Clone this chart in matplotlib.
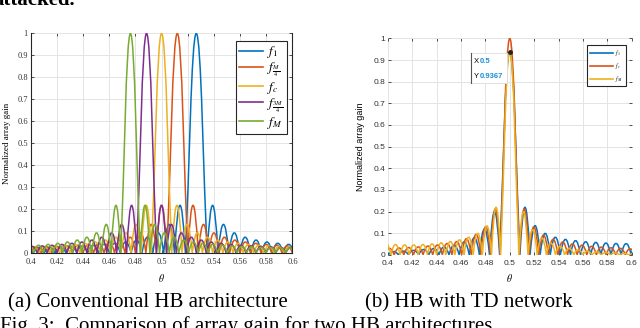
import matplotlib
matplotlib.use("Agg")
import matplotlib.pyplot as plt
from matplotlib.path import Path
from matplotlib.patches import PathPatch, Rectangle
from matplotlib.lines import Line2D

plt.rcParams["mathtext.fontset"] = "stix"

# ---- data ------------------------------------------------------------------
# (a) conventional HB: main-lobe direction and null spacing per frequency
conv_labels = [r"$f_1$", r"$f_{\frac{M}{4}}$", r"$f_c$", r"$f_{\frac{3M}{4}}$", r"$f_M$"]
conv_colors = ["#0072BD", "#D95319", "#EDB120", "#7E2F8E", "#77AC30"]
conv_peak = [0.5265, 0.5120, 0.5000, 0.4885, 0.4762]
conv_null_step = [0.0083, 0.0080, 0.0078, 0.0076, 0.0074]
# sidelobe heights, counted outward from the main lobe (same on both sides)
conv_sidelobes = [0.217, 0.130, 0.092, 0.072, 0.059, 0.050, 0.044, 0.039, 0.035,
                  0.032, 0.030, 0.028, 0.026, 0.025, 0.024, 0.023, 0.022]

# (b) HB with TD network: all beams at theta = 0.5
td_labels = [r"$f_1$", r"$f_c$", r"$f_M$"]
td_colors = ["#0072BD", "#D95319", "#EDB120"]
td_peak = [0.5, 0.5, 0.5]
td_top = [0.9367, 1.0, 0.9367]
td_null_step = [0.0083, 0.0079, 0.0075]
td_left = [
    [0.200, 0.120, 0.080, 0.060, 0.045, 0.036, 0.030, 0.025, 0.021, 0.018, 0.016, 0.015, 0.015],
    [0.212, 0.130, 0.095, 0.075, 0.062, 0.053, 0.046, 0.041, 0.037, 0.034, 0.032, 0.030, 0.030],
    [0.220, 0.135, 0.100, 0.082, 0.070, 0.062, 0.056, 0.051, 0.048, 0.046, 0.046, 0.048, 0.052, 0.056],
]
td_right = [
    [0.220, 0.135, 0.100, 0.082, 0.072, 0.066, 0.061, 0.058, 0.055, 0.053, 0.052, 0.051],
    [0.212, 0.130, 0.092, 0.072, 0.060, 0.051, 0.045, 0.040, 0.036, 0.033, 0.030, 0.028, 0.027],
    [0.200, 0.118, 0.078, 0.055, 0.040, 0.030, 0.023, 0.018, 0.014, 0.011, 0.009, 0.007, 0.006, 0.005],
]

theta_ticks = [0.4, 0.42, 0.44, 0.46, 0.48, 0.5, 0.52, 0.54, 0.56, 0.58, 0.6]
theta_ticklabels = ["0.4", "0.42", "0.44", "0.46", "0.48", "0.5", "0.52", "0.54", "0.56", "0.58", "0.6"]
gain_ticks = [0, 0.1, 0.2, 0.3, 0.4, 0.5, 0.6, 0.7, 0.8, 0.9, 1]
gain_ticklabels = ["0", "0.1", "0.2", "0.3", "0.4", "0.5", "0.6", "0.7", "0.8", "0.9", "1"]


def beam_path(peak, step, top, left, right):
    """Beam pattern as a path: arched lobes between nulls, sinc-like main lobe."""
    verts = [(peak - step * (len(left) + 1), 0.0)]
    codes = [Path.MOVETO]
    for k in range(len(left) - 1, -1, -1):
        x0 = peak - step * (k + 2)
        verts += [(x0 + step / 2, 2 * left[k]), (x0 + step, 0.0)]
        codes += [Path.CURVE3, Path.CURVE3]
    verts += [(peak - 2 * step / 3, top / 3), (peak - 0.45 * step, top), (peak, top),
              (peak + 0.45 * step, top), (peak + 2 * step / 3, top / 3), (peak + step, 0.0)]
    codes += [Path.CURVE4] * 6
    for k, h in enumerate(right):
        x0 = peak + step * (k + 1)
        verts += [(x0 + step / 2, 2 * h), (x0 + step, 0.0)]
        codes += [Path.CURVE3, Path.CURVE3]
    return Path(verts, codes)


def style_axes(ax, family):
    ax.set_xlim(0.4, 0.6)
    ax.set_ylim(0, 1)
    ax.set_xticks(theta_ticks)
    ax.set_xticklabels(theta_ticklabels, family=family, fontsize=6, color="#333333")
    ax.set_yticks(gain_ticks)
    ax.set_yticklabels(gain_ticklabels, family=family, fontsize=6, color="#333333")
    ax.grid(True, color="#e4e4e4", lw=0.7)
    ax.set_axisbelow(True)
    ax.tick_params(direction="in", length=2, width=0.6, pad=2, colors="#333333",
                   top=True, right=True)
    ax.tick_params(axis="x", pad=3.5)


fig = plt.figure(figsize=(6.4, 3.28), dpi=100)

# ---- (a) conventional HB ----
ax1 = fig.add_axes([0.048, 0.229, 0.409, 0.669])
style_axes(ax1, "Liberation Serif")
for sp in ["left", "bottom", "right"]:
    ax1.spines[sp].set_color("#262626")
    ax1.spines[sp].set_linewidth(0.8)
ax1.spines["top"].set_visible(False)
for p, s, c in zip(conv_peak, conv_null_step, conv_colors):
    ax1.add_patch(PathPatch(beam_path(p, s, 1.0, conv_sidelobes, conv_sidelobes),
                            fill=False, edgecolor=c, lw=1.1))
handles = [Line2D([], [], color=c, lw=1.2) for c in conv_colors]
leg = ax1.legend(handles, conv_labels, loc="upper right", bbox_to_anchor=(0.978, 0.966),
                 fontsize=9.5, handlelength=1.8, handletextpad=0.3, labelspacing=0.02,
                 borderpad=0.25, borderaxespad=0, fancybox=False, framealpha=1)
leg.get_frame().set_edgecolor("#262626")
leg.get_frame().set_linewidth(0.8)
ax1.set_ylabel("Normalized array gain", family="Liberation Serif", fontsize=6.5)
ax1.yaxis.set_label_coords(-0.075, 0.5)
ax1.set_xlabel(r"$\theta$", fontsize=7)
ax1.xaxis.set_label_coords(0.5, -0.085)

# ---- (b) HB with TD network ----
ax2 = fig.add_axes([0.606, 0.223, 0.381, 0.660])
style_axes(ax2, "Liberation Sans")
for sp in ax2.spines.values():
    sp.set_visible(False)
for p, s, t, l, r, c in zip(td_peak, td_null_step, td_top, td_left, td_right, td_colors):
    ax2.add_patch(PathPatch(beam_path(p, s, t, l, r), fill=False, edgecolor=c, lw=1.1))
handles = [Line2D([], [], color=c, lw=1.2) for c in td_colors]
leg = ax2.legend(handles, td_labels, loc="upper right", bbox_to_anchor=(0.975, 0.969),
                 fontsize=4, handlelength=4.2, handletextpad=0.4, labelspacing=0.55,
                 borderpad=0.45, borderaxespad=0, fancybox=False, framealpha=1)
leg.get_frame().set_edgecolor("#262626")
leg.get_frame().set_linewidth(0.8)
ax2.set_ylabel("Normalized array gain", family="Liberation Sans", fontsize=6.5)
ax2.yaxis.set_label_coords(-0.094, 0.5)
ax2.set_xlabel(r"$\theta$", fontsize=7)
ax2.xaxis.set_label_coords(0.5, -0.078)

# data tip
ax2.plot([0.5], [0.9367], "o", ms=2.5, color="#222222", zorder=5)
ax2.add_patch(Rectangle((0.4679, 0.792), 0.0300, 0.139, facecolor="white",
                        edgecolor="#dddddd", lw=0.6, zorder=4))
ax2.plot([0.4679, 0.4679], [0.792, 0.931], color="#555555", lw=0.8, zorder=5)
ax2.text(0.4705, 0.892, "X", fontsize=5.5, family="Liberation Sans", va="center", zorder=6)
ax2.text(0.4752, 0.892, "0.5", fontsize=5.5, family="Liberation Sans", va="center",
         color="#1a8fd8", weight="bold", zorder=6)
ax2.text(0.4705, 0.826, "Y", fontsize=5.5, family="Liberation Sans", va="center", zorder=6)
ax2.text(0.4752, 0.826, "0.9367", fontsize=5.5, family="Liberation Sans", va="center",
         color="#1a8fd8", weight="bold", zorder=6)

# ---- surrounding page text ----
fig.text(-0.01, 1 - 5 / 328, "attacked.", family="Liberation Serif", weight="bold",
         fontsize=15, va="baseline")
fig.text(8 / 640, 1 - 307 / 328, "(a) Conventional HB architecture",
         family="Liberation Serif", fontsize=15, va="baseline")
fig.text(365 / 640, 1 - 307 / 328, "(b) HB with TD network",
         family="Liberation Serif", fontsize=15, va="baseline")
fig.text(0.0, 1 - 331 / 328, "Fig. 3:  Comparison of array gain for two HB architectures.",
         family="Liberation Serif", fontsize=15, va="baseline")

fig.savefig("out.png", dpi=100)
